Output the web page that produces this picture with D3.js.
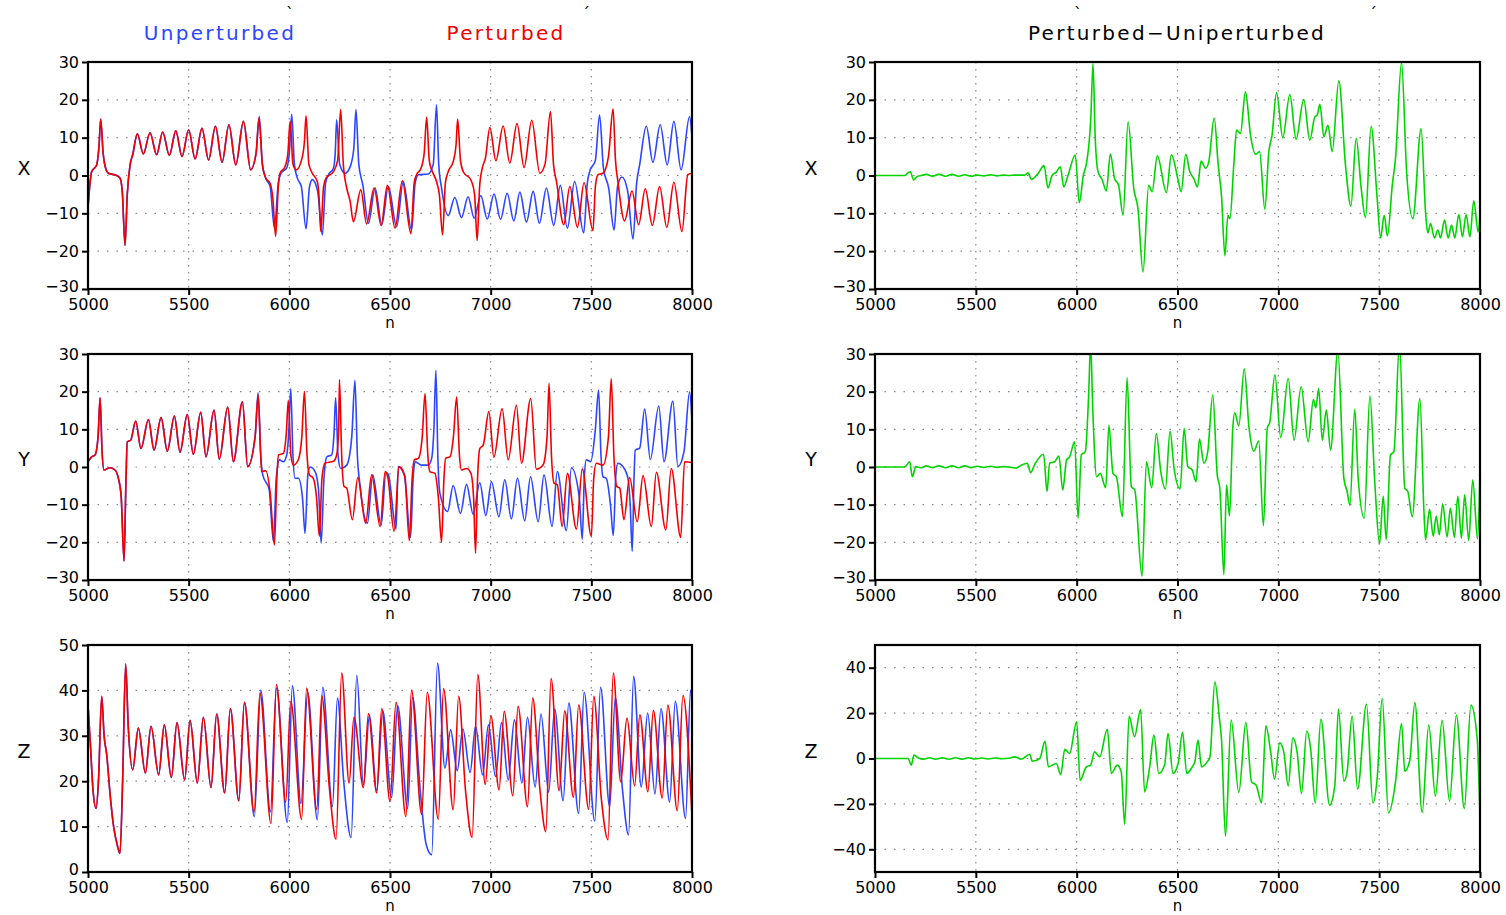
<!DOCTYPE html>
<html>
<head>
<meta charset="utf-8">
<script src="https://cdn.jsdelivr.net/npm/d3@7"></script>
<style>
  body { margin: 0; background: #fff; }
  svg text { font-family: 'DejaVu Sans', sans-serif; }
</style>
</head>
<body>
<div id="chart"></div>
<script>
// ---- data: [n, value] ----
const nTicks = [5000, 5500, 6000, 6500, 7000, 7500, 8000];
const xyTicks = [-30, -20, -10, 0, 10, 20, 30];
const zTicks = [0, 10, 20, 30, 40, 50];
const dzTicks = [-40, -20, 0, 20, 40];

const xShared = [[5000,-8.5],[5010,-2],[5018,1],[5043,2.8],[5055,8],[5063,14.9],[5075,6],[5090,1.5],[5101,0.6],[5142,0],[5159,-0.7],[5170,-4],[5184,-18.5],[5195,-5],[5209,2.8],[5222,5.5],[5245,11],[5275,5.7],[5308,11.3],[5341,5.5],[5371,11.5],[5404,5.3],[5436,11.8],[5467,5.0],[5500,12.1],[5532,4.4],[5566,12.5],[5599,4.1],[5633,13],[5666,3.5],[5700,13.4],[5734,2.8],[5772,14.3],[5808,1.5]];
const xUnpert = xShared.concat([[5835,6],[5851,15.6],[5866,3],[5883,-0.7],[5905,-3],[5926,-13.9],[5945,-2],[5959,0.6],[5987,2.0],[6000,6],[6012,16.2],[6025,3],[6040,-0.7],[6060,-3],[6083,-14.1],[6100,-3],[6114,-1.1],[6140,-4],[6164,-15.7],[6180,-2],[6194,0.2],[6219,1.9],[6228,6],[6235,14.7],[6250,3],[6277,0.6],[6300,2],[6320,7],[6331,17.4],[6345,3],[6365,-2.5],[6393,-12.6],[6426,-3.3],[6459,-13],[6492,-2.9],[6533,-13.5],[6566,-1.6],[6607,-14.4],[6625,-2],[6641,0.2],[6690,0.4],[6715,3],[6731,18.7],[6742,3],[6756,-3.3],[6789,-10.6],[6822,-5.8],[6855,-11.1],[6888,-5.6],[6918,-11.3],[6951,-5.3],[6983,-11.5],[7017,-4.9],[7049,-11.6],[7082,-4.7],[7115,-12],[7145,-4.4],[7178,-12.3],[7211,-4.2],[7242,-12.6],[7277,-3.3],[7313,-13.2],[7346,-2.6],[7381,-13.9],[7417,-1.6],[7462,-15.2],[7480,-2],[7492,1.1],[7520,4],[7541,16],[7560,2],[7586,-3.3],[7613,-14.4],[7630,-3],[7652,-0.4],[7680,-4],[7707,-16.8],[7725,-2],[7740,2.8],[7773,13],[7806,3.5],[7842,13.4],[7877,2.8],[7910,14.3],[7946,1.5],[7988,15.6],[8000,10]]);
const xPert = xShared.concat([[5835,6],[5849,15.2],[5866,3],[5883,-0.7],[5904,-2],[5918,-6],[5932,-16.1],[5945,-3],[5954,0.6],[5979,2.4],[5993,6],[6004,14.3],[6018,3],[6035,1.5],[6060,4],[6075,9],[6083,15.8],[6097,3],[6114,0.6],[6139,-1.6],[6148,-6],[6156,-14.8],[6170,-3],[6182,-0.7],[6219,1.0],[6240,4],[6255,17.5],[6268,3],[6285,-3.3],[6302,-6.8],[6318,-12.2],[6355,-3.8],[6384,-12.8],[6421,-3.3],[6456,-13.2],[6487,-2.6],[6525,-13.9],[6561,-1.4],[6604,-15.4],[6620,-2],[6632,0.2],[6654,1.9],[6670,6],[6682,15.4],[6695,4],[6707,1.5],[6731,-1.6],[6745,-5],[6761,-15.7],[6775,-2],[6789,1.0],[6814,3.7],[6828,8],[6836,14.9],[6850,4],[6864,1.0],[6902,-1.2],[6920,-5],[6933,-17.2],[6945,-3],[6958,1.9],[6974,4.6],[6996,12.7],[7026,3.9],[7062,13.1],[7095,3.3],[7131,13.7],[7166,2.1],[7204,14.6],[7244,0.6],[7270,3],[7297,16.9],[7312,3],[7327,-1.6],[7363,-13],[7393,-2.9],[7431,-13.7],[7464,-1.9],[7508,-14.6],[7520,-3],[7533,0.2],[7558,0.6],[7585,5],[7608,17.6],[7620,4],[7632,-1.6],[7665,-12],[7702,-4.1],[7735,-13],[7768,-3.5],[7803,-13.2],[7839,-2.9],[7875,-13.7],[7910,-1.8],[7950,-14.8],[7979,0.2],[8000,0.6]]);

const yShared = [[5000,1.4],[5018,2.7],[5035,3.2],[5050,8],[5060,18.4],[5070,4],[5079,-0.8],[5109,-0.2],[5134,-0.8],[5151,-3],[5165,-8],[5179,-25],[5188,-5],[5195,6.7],[5212,7.1],[5237,12.2],[5263,4.9],[5300,12.6],[5328,4.5],[5363,13.1],[5394,4.2],[5429,13.5],[5457,3.9],[5493,13.9],[5523,3.4],[5560,14.5],[5586,2.7],[5626,15.1],[5652,2.1],[5694,15.9],[5722,1.4],[5767,17.3],[5793,0.1]];
const yUnpert = yShared.concat([[5830,8],[5845,19.7],[5858,3],[5868,-2.1],[5900,-6],[5921,-19.8],[5935,-3],[5951,1.9],[5970,1.4],[5987,3.2],[5998,10],[6007,20.8],[6018,3],[6028,-3],[6045,-3],[6065,-8],[6078,-17.6],[6092,-2],[6103,0],[6128,-1.2],[6145,-6],[6158,-20.2],[6172,-3],[6186,2.7],[6210,3.2],[6222,9],[6230,18.4],[6242,3],[6255,-0.4],[6285,0.5],[6310,8],[6326,23],[6338,3],[6351,-4.8],[6388,-14.9],[6414,-2.1],[6456,-15.4],[6480,-1.4],[6492,-2],[6530,-16.5],[6541,0.1],[6571,-2.1],[6602,-18.7],[6615,-3],[6624,1.4],[6657,0.5],[6690,0.5],[6707,2.3],[6718,10],[6728,25.7],[6738,2],[6748,-7],[6786,-11.8],[6814,-4.9],[6850,-12.3],[6880,-4.6],[6913,-12.5],[6946,-4.2],[6976,-12.9],[7004,-3.9],[7041,-13.2],[7070,-3.4],[7103,-13.8],[7133,-3],[7169,-14.3],[7198,-2.6],[7236,-14.5],[7265,-2.1],[7305,-15.8],[7331,-1.2],[7376,-16.9],[7401,-0.2],[7440,-8],[7455,-19.2],[7465,-3],[7475,1.9],[7497,1.4],[7520,10],[7536,20.4],[7548,3],[7558,-2.6],[7574,-3],[7595,-10],[7609,-18.2],[7622,-2],[7632,1],[7657,0.1],[7682,-3],[7693,-10],[7703,-22.4],[7712,-3],[7718,4.5],[7740,5],[7765,15.4],[7793,2],[7835,16.2],[7861,1.4],[7905,17.5],[7930,0.1],[7960,4],[7988,19.9],[8000,12]]);
const yPert = yShared.concat([[5830,8],[5845,19.1],[5858,3],[5863,-1.2],[5883,-1],[5905,-7],[5926,-20.7],[5938,-3],[5946,3.2],[5970,3.6],[5985,9],[5995,17.7],[6008,3],[6020,0.5],[6045,2],[6062,8],[6075,20.1],[6088,3],[6100,-2.1],[6119,-3],[6135,-8],[6149,-18.4],[6162,-3],[6177,1],[6219,1.5],[6235,3.2],[6245,10],[6249,23.2],[6260,3],[6272,-5.2],[6285,-5.6],[6313,-14],[6340,-2.8],[6379,-14.9],[6409,-2.1],[6451,-15.8],[6476,-1.2],[6490,-3],[6520,-17.1],[6545,0.1],[6574,-2.5],[6596,-19.6],[6610,-3],[6621,1.9],[6641,2.3],[6660,8],[6674,19.5],[6688,3],[6698,-1.2],[6723,-1.7],[6740,-8],[6756,-20],[6768,-3],[6776,2.3],[6798,2.7],[6815,8],[6831,18.6],[6845,3],[6855,-0.8],[6880,-0.4],[6902,-1.7],[6915,-8],[6925,-22.9],[6935,-3],[6946,4.9],[6963,5.8],[6991,14.7],[7016,2.6],[7057,15.5],[7087,1.9],[7128,16.4],[7153,1],[7199,18.2],[7227,-0.6],[7260,0.5],[7280,8],[7290,22.2],[7302,3],[7315,-4.3],[7331,-4.7],[7355,-15.8],[7381,-1.7],[7426,-16.5],[7455,-0.5],[7500,-18.4],[7512,-3],[7525,1],[7558,0.5],[7585,8],[7599,23.5],[7612,3],[7627,-5.2],[7641,-5.6],[7662,-14],[7690,-2.8],[7728,-14.5],[7757,-2.3],[7798,-15.8],[7823,-1.4],[7870,-16.7],[7897,-0.4],[7944,-18.7],[7963,1.4],[8000,1.2]]);

const zShared = [[5000,36.8],[5012,28],[5025,18],[5040,14],[5052,20],[5068,38.7],[5080,30],[5093,25.8],[5110,17],[5126,10.4],[5145,6],[5159,4.1],[5172,20],[5187,45.8],[5200,32],[5222,22.5],[5250,31.7],[5285,21.8],[5313,32.1],[5351,21.4],[5379,32.4],[5414,20.8],[5442,32.9],[5480,20.3],[5507,33.4],[5543,19.6],[5573,34.1],[5611,18.6],[5639,34.8],[5679,17.4],[5707,36],[5749,15.7],[5777,37.4]];
const zUnpert = zShared.concat([[5826,12.2],[5858,40],[5906,13.2],[5936,40.5],[5990,10.9],[6015,41],[6058,15.1],[6091,39.5],[6139,11.5],[6166,40.7],[6214,14.4],[6239,38.3],[6270,20],[6307,7.6],[6335,43.3],[6368,19.2],[6398,34.5],[6434,17.9],[6464,35.5],[6508,16.4],[6538,36.6],[6588,14],[6612,38.5],[6650,18],[6680,6],[6707,3.8],[6736,46],[6773,22.9],[6801,31.3],[6834,22.3],[6862,31.5],[6898,21.9],[6925,32.1],[6960,21.4],[6989,32.4],[7024,21],[7054,32.9],[7087,20.3],[7118,33.5],[7155,19.6],[7183,34.1],[7221,18.7],[7250,34.8],[7288,17.6],[7318,35.9],[7360,15.7],[7388,37.2],[7437,12.9],[7464,39.6],[7517,11.2],[7546,40.7],[7591,14.4],[7619,38.3],[7655,18],[7685,8.2],[7710,43.1],[7748,18.7],[7780,35],[7816,17.2],[7846,36],[7889,15.4],[7917,37.6],[7968,11.8],[7993,40.1],[8000,38]]);
const zPert = zShared.concat([[5825,13.2],[5854,39.4],[5909,10.7],[5936,41.3],[5982,15.4],[6007,37.6],[6061,11.6],[6086,40.5],[6136,13.8],[6161,38.8],[6200,18],[6232,7.2],[6260,43.8],[6297,19.6],[6321,34.1],[6368,18.6],[6393,34.9],[6434,17.4],[6459,36],[6500,15.5],[6530,37.4],[6579,12.2],[6607,40],[6657,12.7],[6685,39.6],[6740,11.6],[6766,40.4],[6814,13.7],[6841,38.7],[6875,18],[6908,7.6],[6936,43.5],[6973,19.3],[7001,34.4],[7042,18.1],[7067,35.4],[7110,16.8],[7136,36.5],[7183,14.4],[7209,38.3],[7245,18],[7274,8.9],[7300,42.6],[7340,17.9],[7368,35.5],[7411,16.4],[7437,36.8],[7487,13.8],[7512,38.7],[7550,16],[7583,7.1],[7609,43.8],[7646,19.9],[7677,33.9],[7715,19],[7741,34.6],[7781,17.7],[7808,35.6],[7852,16.3],[7880,36.8],[7927,13.5],[7955,38.9],[8000,12.2]]);

const dX = [[5000,0],[5147,0],[5165,0.8],[5175,1],[5192,-1.2],[5208,-0.3],[5230,0],[5255,0.3],[5285,-0.2],[5317,0.3],[5350,-0.2],[5382,0.3],[5415,-0.2],[5445,0.2],[5475,-0.2],[5507,0.1],[5540,-0.1],[5574,0.2],[5605,-0.1],[5635,0.1],[5665,0],[5693,0.1],[5742,0.1],[5759,0.7],[5775,-1],[5808,0.5],[5838,2.6],[5858,-3.3],[5878,0],[5899,0.9],[5919,2.3],[5936,-3],[5957,0],[5993,5.4],[6013,-7.2],[6033,0],[6050,3.6],[6070,15],[6081,29.6],[6092,10],[6106,1],[6127,-1.2],[6147,-4.1],[6167,5.7],[6188,-0.8],[6208,-2.6],[6230,-10.5],[6255,14.2],[6283,-3.4],[6304,-8.8],[6329,-25.5],[6357,-2.6],[6374,-4.3],[6400,5.2],[6445,-4.5],[6470,5.5],[6503,-1.2],[6518,-4.3],[6541,5.6],[6561,1],[6581,-0.8],[6599,-3],[6617,3.8],[6639,1.9],[6655,3.6],[6682,15.2],[6702,2.7],[6718,-5.2],[6735,-21.2],[6750,-10.5],[6760,-11.4],[6779,2.7],[6793,12],[6812,11.1],[6837,22.1],[6862,10.7],[6887,5.6],[6907,6.3],[6933,-8.9],[6953,6.3],[6969,10.7],[6991,21.9],[7022,10],[7057,21.4],[7088,9.6],[7126,20.1],[7156,9.3],[7181,15.5],[7193,16],[7206,18.8],[7226,10.2],[7246,13.3],[7267,6.3],[7300,25],[7333,2.7],[7360,-8.1],[7386,9.8],[7411,-3.4],[7432,-11.1],[7460,13],[7490,-6],[7507,-16.5],[7525,-10.5],[7541,-16],[7565,-2.6],[7581,4.5],[7611,29.9],[7636,1],[7667,-11.4],[7708,12.4],[7730,-9.7],[7741,-15.2],[7755,-12.7],[7774,-16.5],[7791,-14.4],[7804,-16.5],[7824,-11.8],[7842,-16.5],[7859,-13.1],[7875,-16.5],[7895,-10.3],[7913,-16.2],[7931,-10.3],[7950,-16.2],[7969,-6.7],[7991,-14.9],[8000,-10.5]];
const dY = [[5000,0],[5147,0],[5172,1.4],[5185,-2.6],[5202,0.1],[5230,-0.2],[5255,0.3],[5285,-0.2],[5317,0.3],[5350,-0.2],[5382,0.3],[5415,-0.2],[5445,0.3],[5475,-0.2],[5507,0.2],[5540,-0.1],[5574,0.2],[5605,-0.1],[5635,0.1],[5665,0],[5701,-0.3],[5726,0.5],[5755,1],[5772,-1.5],[5792,0.7],[5836,3.4],[5853,-6.5],[5866,1],[5891,1.4],[5912,2.9],[5931,-6.1],[5950,1.9],[5965,2.7],[5990,6.7],[6007,-13.6],[6023,3.2],[6043,4.1],[6060,20],[6069,33],[6080,15],[6099,-2.6],[6117,-1.7],[6144,-5.5],[6160,11.1],[6180,-1.7],[6197,-2.6],[6227,-13.2],[6250,23.7],[6271,-5.2],[6288,-6.1],[6324,-29],[6346,1.4],[6372,-5.5],[6395,8.9],[6417,-1.2],[6440,-5.8],[6463,9.5],[6483,-0.4],[6513,-5.8],[6533,10.2],[6551,0.1],[6573,-0.8],[6592,-3.9],[6609,7.4],[6631,1],[6650,4.1],[6675,19.2],[6697,-2.1],[6710,-5.7],[6730,-28.6],[6743,-4.8],[6758,-13],[6774,10.2],[6784,14.4],[6804,10.9],[6831,26.1],[6854,10.8],[6879,4.2],[6903,6.9],[6926,-15.6],[6945,10.2],[6958,12],[6983,24.5],[7012,7.8],[7049,23.5],[7078,7.1],[7113,21.3],[7148,6.7],[7174,17.9],[7186,15.7],[7200,20.8],[7218,7.1],[7238,15.1],[7259,4.5],[7295,30.8],[7325,-3],[7341,-6.5],[7355,-10.1],[7379,15.3],[7396,-3],[7426,-13.6],[7454,18.9],[7479,-4.8],[7502,-20.4],[7520,-7.7],[7535,-19.3],[7556,3.2],[7573,4.1],[7601,33],[7627,-5.6],[7642,-6.5],[7664,-13.2],[7702,18.2],[7722,-11.8],[7730,-19.3],[7750,-11.2],[7768,-18.4],[7783,-13],[7798,-18],[7815,-9.8],[7837,-18.6],[7853,-10.9],[7873,-18.7],[7890,-7.7],[7908,-18.9],[7924,-7.4],[7944,-19.5],[7964,-3.4],[7988,-19.1],[8000,-1]];
const dZ = [[5000,0],[5164,0],[5180,-2.9],[5193,1.5],[5215,0.2],[5240,-0.3],[5270,0.3],[5300,-0.3],[5335,0.3],[5365,-0.3],[5400,0.3],[5430,-0.3],[5465,0.3],[5495,-0.2],[5530,0.2],[5560,-0.2],[5595,0.2],[5630,-0.1],[5665,0.1],[5693,0.7],[5726,-0.3],[5767,1.9],[5780,-1.2],[5817,0],[5843,7.6],[5860,-3.7],[5899,-2.2],[5921,-7.1],[5941,4.1],[5965,2.2],[6000,16.2],[6017,-9.6],[6048,-3.7],[6069,-2.9],[6089,2.9],[6114,0.7],[6152,12.9],[6172,-6.6],[6201,-2.9],[6221,-5.9],[6238,-29],[6260,18.7],[6287,9.6],[6317,21.6],[6337,-14.7],[6362,-3.7],[6383,10.3],[6407,-6.6],[6436,-2.9],[6453,11],[6478,-6.6],[6503,-2.2],[6525,11.5],[6546,-6.6],[6573,-3.7],[6586,-1.5],[6602,8.1],[6619,-3.7],[6647,-1.5],[6661,0.7],[6685,33.8],[6708,17.6],[6718,8.8],[6738,-34.3],[6766,16.9],[6804,-15],[6839,15.9],[6867,-10.3],[6890,-11.8],[6917,-19.6],[6938,14.4],[6962,2.9],[6981,-9.1],[7007,6.9],[7027,2.9],[7049,-12.1],[7072,9.1],[7093,2.9],[7115,-15.4],[7141,12.1],[7160,4.4],[7183,-19.6],[7211,17.4],[7254,-20.6],[7280,-11.8],[7298,21.8],[7325,-10],[7341,-5.9],[7366,18.7],[7393,-13.5],[7437,24],[7469,-19.6],[7490,-8.8],[7515,26.5],[7546,-24],[7581,-10.3],[7611,15.4],[7627,-5.6],[7652,-0.7],[7677,24.7],[7713,-23.8],[7746,14.7],[7779,-16.6],[7812,16.8],[7849,-18.8],[7883,19.1],[7922,-22.1],[7955,23.5],[7986,8.8],[8000,-26.9]];

const BLUE = '#2a46ff', RED = '#f00000', GREEN = '#00d400';

const W = 1506, H = 915;
const svg = d3.select('#chart').append('svg').attr('width', W).attr('height', H);

const cols = [{x0: 88, x1: 692}, {x0: 875, x1: 1480}];
const rows = [{y0: 62, y1: 289}, {y0: 354, y1: 580}, {y0: 645, y1: 872}];

const panels = [
  {c: 0, r: 0, dom: [-30, 30], ticks: xyTicks, label: 'X', series: [[xUnpert, BLUE], [xPert, RED]]},
  {c: 0, r: 1, dom: [-30, 30], ticks: xyTicks, label: 'Y', series: [[yUnpert, BLUE], [yPert, RED]]},
  {c: 0, r: 2, dom: [0, 50], ticks: zTicks, label: 'Z', series: [[zUnpert, BLUE], [zPert, RED]]},
  {c: 1, r: 0, dom: [-30, 30], ticks: xyTicks, label: 'X', series: [[dX, GREEN]]},
  {c: 1, r: 1, dom: [-30, 30], ticks: xyTicks, label: 'Y', series: [[dY, GREEN]]},
  {c: 1, r: 2, dom: [-50, 50], ticks: dzTicks, label: 'Z', series: [[dZ, GREEN]]},
];

panels.forEach((p, i) => {
  const col = cols[p.c], row = rows[p.r];
  const x = d3.scaleLinear().domain([5000, 8000]).range([col.x0, col.x1]);
  const y = d3.scaleLinear().domain(p.dom).range([row.y1, row.y0]);
  const g = svg.append('g');

  // dotted grid
  g.append('g').selectAll('line')
    .data(p.ticks.filter((t) => t > p.dom[0] && t < p.dom[1]))
    .enter().append('line')
    .attr('x1', col.x0).attr('x2', col.x1)
    .attr('y1', (d) => y(d)).attr('y2', (d) => y(d))
    .style('stroke', '#888').style('stroke-width', 1.2)
    .style('stroke-dasharray', '1.5,8');
  g.append('g').selectAll('line')
    .data(nTicks.slice(1, -1))
    .enter().append('line')
    .attr('x1', (d) => x(d)).attr('x2', (d) => x(d))
    .attr('y1', row.y0).attr('y2', row.y1)
    .style('stroke', '#888').style('stroke-width', 1.2)
    .style('stroke-dasharray', '1.5,5.5');

  // clip
  svg.append('clipPath').attr('id', 'clip' + i)
    .append('rect')
    .attr('x', col.x0).attr('y', row.y0)
    .attr('width', col.x1 - col.x0).attr('height', row.y1 - row.y0);

  const line = d3.line()
    .x((d) => x(d[0]))
    .y((d) => y(d[1]))
    .curve(d3.curveMonotoneX);

  p.series.forEach(([data, color]) => {
    g.append('path')
      .datum(data)
      .attr('clip-path', `url(#clip${i})`)
      .attr('d', line)
      .style('fill', 'none')
      .style('stroke', color)
      .style('stroke-width', 1.6)
      .style('stroke-linejoin', 'round');
  });

  // axes
  const xAxis = g.append('g')
    .attr('transform', `translate(0,${row.y1})`)
    .call(d3.axisBottom(x).tickValues(nTicks).tickFormat(d3.format('d')).tickSize(6).tickSizeOuter(0));
  const yAxis = g.append('g')
    .attr('transform', `translate(${col.x0},0)`)
    .call(d3.axisLeft(y).tickValues(p.ticks).tickSize(6).tickSizeOuter(0));
  [xAxis, yAxis].forEach((a) => {
    a.select('.domain').remove();
    a.selectAll('.tick line').style('stroke', '#000').style('stroke-width', 2);
    a.selectAll('text')
      .style('font-family', "'DejaVu Sans', sans-serif")
      .style('font-size', '16px')
      .style('fill', '#000');
  });
  // baseline about 21px below the frame
  xAxis.selectAll('text').attr('dy', null).attr('y', 21);
  yAxis.selectAll('text').attr('x', -9)
    .attr('y', (d) => (d === p.dom[0] ? -3 : 0));

  // frame
  g.append('rect')
    .attr('x', col.x0).attr('y', row.y0)
    .attr('width', col.x1 - col.x0).attr('height', row.y1 - row.y0)
    .style('fill', 'none').style('stroke', '#000').style('stroke-width', 2.2);

  // labels
  g.append('text')
    .attr('x', (col.x0 + col.x1) / 2).attr('y', row.y1 + 39)
    .attr('text-anchor', 'middle')
    .style('font-size', '15px')
    .text('n');
  g.append('text')
    .attr('x', col.x0 - 64).attr('y', (row.y0 + row.y1) / 2 - 1)
    .attr('text-anchor', 'middle')
    .style('font-size', '19px')
    .text(p.label);
});

// titles
const titles = [
  {x: 220, text: 'Unperturbed', color: BLUE},
  {x: 506, text: 'Perturbed', color: RED},
  {x: 1177, text: 'Perturbed\u2212Uniperturbed', color: '#000'},
];
svg.selectAll('.title')
  .data(titles)
  .enter().append('text')
  .attr('class', 'title')
  .attr('x', (d) => d.x).attr('y', 40)
  .attr('text-anchor', 'middle')
  .style('font-size', '20px')
  .style('letter-spacing', '2.3px')
  .style('fill', (d) => d.color)
  .text((d) => d.text);

// stray accent marks above the titles
const marks = [[290, '`'], [586, '\u00b4'], [1078, '`'], [1373, '\u00b4']];
svg.selectAll('.mark')
  .data(marks)
  .enter().append('text')
  .attr('x', (d) => d[0]).attr('y', 19)
  .attr('text-anchor', 'middle')
  .style('font-size', '16px')
  .text((d) => d[1]);
</script>
</body>
</html>
